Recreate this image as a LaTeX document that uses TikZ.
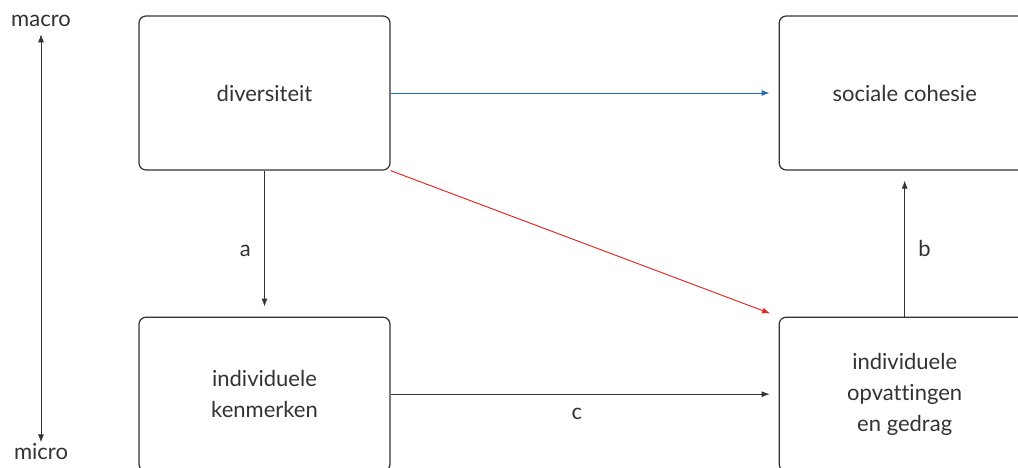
\documentclass[tikz,border=0pt]{standalone}
\usepackage{fontspec}
\setmainfont[Ligatures=NoCommon]{Lato}
\usetikzlibrary{positioning, arrows.meta}
\definecolor{txtgray}{HTML}{333333}
\definecolor{lineblue}{HTML}{1F6FB2}
\definecolor{linered}{HTML}{E8231C}
\begin{document}
\begin{tikzpicture}[x=1pt, y=-1pt, node distance=146pt and 388pt, font=\fontsize{22}{31}\selectfont, text=txtgray]
        \tikzstyle{box} = [rectangle, rounded corners=7pt, minimum width=251pt, minimum height=154pt, text centered, align=center, draw=txtgray, line width=1.2pt, fill=white]
        \tikzstyle{arrow} = [line width=0.9pt, draw=txtgray, -{Latex[length=8pt, width=6pt]}, shorten >=9pt]
        \useasboundingbox (0,0) rectangle (1018,467);
        \clip (0,0) rectangle (1018,467);

        \node (div) [box] at (264.5,93) {diversiteit};
        \node (coh) [box, right=of div] {sociale cohesie};
        \node (ken) [box, below=of div] {individuele\\kenmerken};
        \node (opv) [box, below=of coh] {individuele\\opvattingen\\en gedrag};

        % schaal macro - micro
        \node (macro) at (41,21) {macro};
        \node (micro) at (41,452) {micro};
        \draw [arrow, {Latex[length=8pt, width=6pt]}-{Latex[length=8pt, width=6pt]}, shorten >=-2pt, shorten <=4pt] (macro) -- (micro);

        \draw [arrow, draw=lineblue, fill=lineblue] (div) -- (coh);
        \draw [arrow, draw=linered, fill=linered] (div.south east) -- (opv.north west);
        \draw [arrow, shorten >=10pt] (div) -- node [left=10pt, pos=0.55] {a} (ken);
        \draw [arrow, shorten >=10pt] (opv) -- node [right=10pt, pos=0.47] {b} (coh);
        \draw [arrow] (ken) -- node [below=10pt, pos=0.48] {c} (opv);
    \end{tikzpicture}
\end{document}
